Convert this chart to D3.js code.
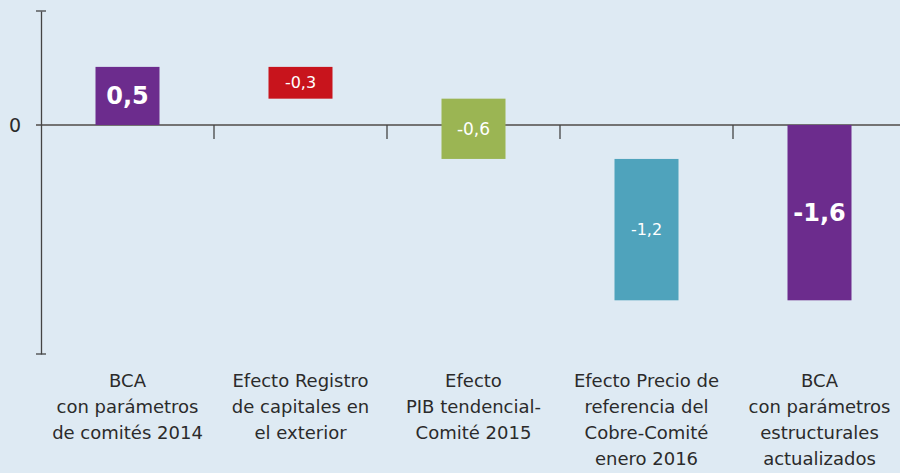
<!DOCTYPE html>
<html lang="es">
<head>
  <meta charset="UTF-8">
  <title>BCA waterfall (D3.js)</title>
  <script src="https://d3js.org/d3.v7.min.js"></script>
  <style>
    body {
      margin: 0;
      background-color: #deeaf3;
      font-family: 'DejaVu Sans', sans-serif;
    }
    svg { display: block; }
    .cat text { fill: #2b2b2b; font-size: 18px; }
    .val { fill: #fff; }
  </style>
</head>
<body>
<svg id="chart" width="900" height="473"></svg>

<script>
// categories, multi-line tick labels
const categories = ["bca2014", "registro", "pib", "cobre", "bca2016"];
const catLabels = [
  ["BCA", "con parámetros", "de comités 2014"],
  ["Efecto Registro", "de capitales en", "el exterior"],
  ["Efecto", "PIB tendencial-", "Comité 2015"],
  ["Efecto Precio de", "referencia del", "Cobre-Comité", "enero 2016"],
  ["BCA", "con parámetros", "estructurales", "actualizados"]
];
// underlying values; labels as printed
const values = [0.53, -0.29, -0.55, -1.29, -1.6];
const isTotal = [true, false, false, false, true];
const valueLabels = ["0,5", "-0,3", "-0,6", "-1,2", "-1,6"];
const labelSizes = [24, 16, 17, 16, 24];
const colors = ["#6c2c8d", "#c8141c", "#9bb553", "#4fa3bc", "#6c2c8d"];

const svg = d3.select("#chart");

const x = d3.scaleBand().domain(categories).range([41, 906]);
const y = d3.scaleLinear().domain([-2.09, 1.04]).range([354, 11]);

// waterfall start/end
let run = 0;
const bars = values.map((v, i) => {
  let b;
  if (isTotal[i]) { b = {from: 0, to: v}; run = v; }
  else { b = {from: run, to: run + v}; run += v; }
  return b;
});

// zero line
svg.append("line")
  .attr("x1", 36).attr("x2", 900)
  .attr("y1", y(0)).attr("y2", y(0))
  .attr("stroke", "#737373").attr("stroke-width", 2);

// category separators below zero line
categories.slice(1).forEach(c => {
  svg.append("line")
    .attr("x1", x(c)).attr("x2", x(c))
    .attr("y1", y(0)).attr("y2", y(0) + 14)
    .attr("stroke", "#444").attr("stroke-width", 1.3);
});

// y axis with end ticks
const yAxis = svg.append("g").attr("transform", "translate(41,0)")
  .call(d3.axisLeft(y).tickValues([]).tickSizeOuter(0));
yAxis.select(".domain").attr("stroke", "#444").attr("stroke-width", 1.3);
y.domain().forEach(v => {
  svg.append("line")
    .attr("x1", 36).attr("x2", 46)
    .attr("y1", y(v)).attr("y2", y(v))
    .attr("stroke", "#444").attr("stroke-width", 1.3);
});
svg.append("text")
  .attr("x", 15).attr("y", y(0))
  .attr("dy", "0.35em")
  .attr("text-anchor", "middle")
  .attr("fill", "#2b2b2b")
  .style("font-size", "19px")
  .text("0");

// bars
const bw = 64;
svg.selectAll("rect.bar")
  .data(bars)
  .join("rect")
  .attr("class", "bar")
  .attr("x", (d, i) => x(categories[i]) + x.bandwidth() / 2 - bw / 2)
  .attr("width", bw)
  .attr("y", d => y(Math.max(d.from, d.to)))
  .attr("height", d => Math.abs(y(d.from) - y(d.to)))
  .attr("fill", (d, i) => colors[i]);

svg.selectAll("text.val")
  .data(bars)
  .join("text")
  .attr("class", "val")
  .attr("x", (d, i) => x(categories[i]) + x.bandwidth() / 2)
  .attr("y", d => (y(d.from) + y(d.to)) / 2)
  .attr("dy", "0.35em")
  .attr("text-anchor", "middle")
  .style("font-size", (d, i) => labelSizes[i] + "px")
  .style("font-weight", (d, i) => isTotal[i] ? "bold" : "normal")
  .text((d, i) => valueLabels[i]);

// category labels
const cat = svg.append("g").attr("class", "cat");
catLabels.forEach((lines, i) => {
  const t = cat.append("text")
    .attr("x", x(categories[i]) + x.bandwidth() / 2)
    .attr("y", 387)
    .attr("text-anchor", "middle");
  lines.forEach((s, j) => {
    t.append("tspan")
      .attr("x", x(categories[i]) + x.bandwidth() / 2)
      .attr("dy", j === 0 ? 0 : 26)
      .text(s);
  });
});
</script>
</body>
</html>
